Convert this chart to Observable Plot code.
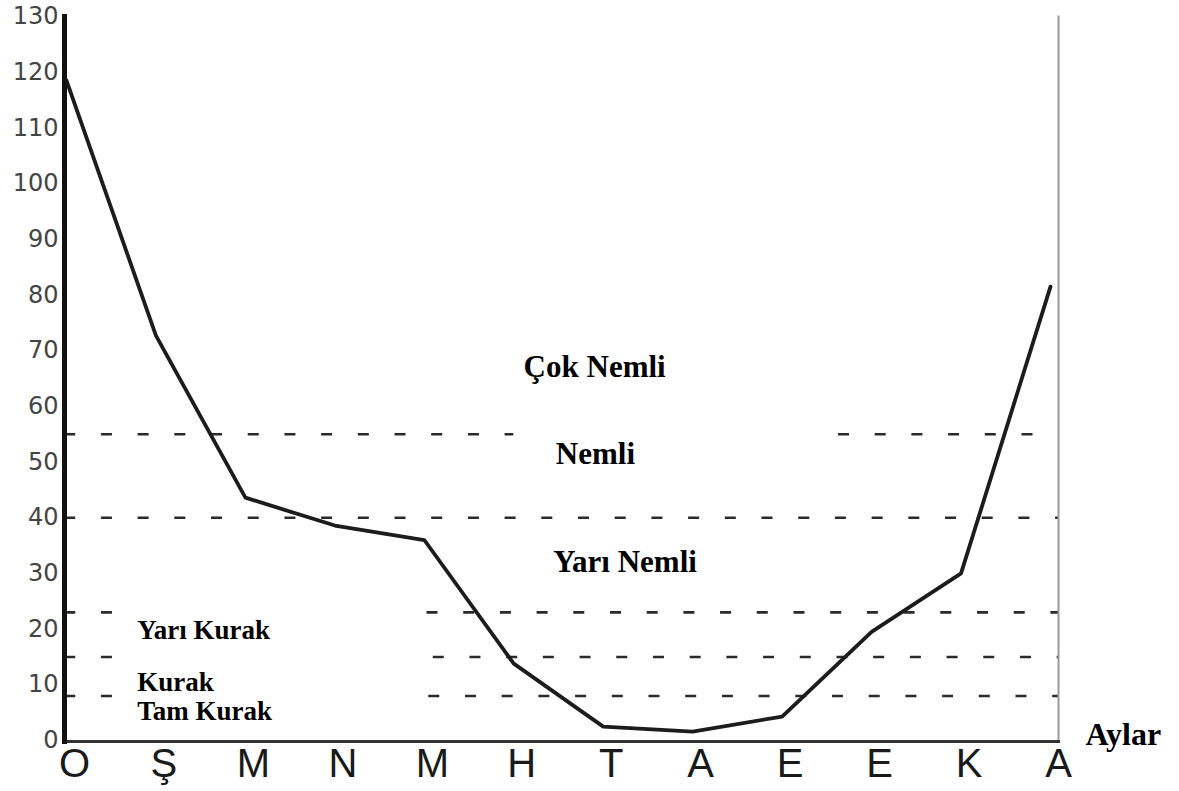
<!DOCTYPE html>
<html>
<head>
<meta charset="utf-8">
<script src="https://cdn.jsdelivr.net/npm/d3@7"></script>
<script src="https://cdn.jsdelivr.net/npm/@observablehq/plot@0.6"></script>
<style>
  html, body { margin: 0; padding: 0; background: #fff; }
  #chart svg { display: block; }
</style>
</head>
<body>
<div id="chart"></div>
<script>
// Months (October → September, hydrological year)
const months = ["O", "Ş", "M", "N", "M", "H", "T", "A", "E", "E", "K", "A"];
// Erinç index values
const indexValues = [118.5, 72.7, 43.6, 38.6, 36.0, 13.8, 2.5, 1.6, 4.3, 19.5, 30.0, 81.5];
// Y-axis ticks
const yTicks = [0, 10, 20, 30, 40, 50, 60, 70, 80, 90, 100, 110, 120, 130];

// Class thresholds (dashed lines) and their drawn extents in month units
const thresholdValues = [55, 55, 40, 23, 23, 15, 15, 8, 8];
const thresholdFrom   = [-0.02, 8.63, -0.02, -0.02, 4.03, -0.02, 4.10, -0.02, 4.05];
const thresholdTo     = [5.00, 11.09, 11.09, 0.52, 11.09, 0.55, 11.09, 0.52, 11.09];

// Class labels
const zoneNames  = ["Çok Nemli", "Nemli", "Yarı Nemli", "Yarı Kurak", "Kurak", "Tam Kurak"];
const zoneX      = [5.11, 5.47, 5.44, 0.79, 0.79, 0.79];
const zoneY      = [67.0, 51.4, 32.1, 19.8, 10.4, 5.2];
const zoneSize   = [31, 31, 31, 27, 27, 27];

const axisTitle = "Aylar";

const series = months.map((m, i) => ({i, month: m, value: indexValues[i]}));
const thresholds = thresholdValues.map((v, k) => ({y: v, x1: thresholdFrom[k], x2: thresholdTo[k]}));
const zones = zoneNames.map((n, k) => ({name: n, x: zoneX[k], y: zoneY[k], size: zoneSize[k]}));

const chart = Plot.plot({
  width: 1179,
  height: 791,
  marginLeft: 64,
  marginRight: 121,
  marginTop: 16,
  marginBottom: 50,
  style: {background: "#fff", fontFamily: "'Liberation Serif', serif"},
  x: {type: "linear", domain: [0, 11], insetLeft: 2, insetRight: 8},
  y: {domain: [0, 130], insetBottom: 1},
  marks: [
    Plot.ruleY(thresholds, {y: "y", x1: "x1", x2: "x2", stroke: "#2a2a2a", strokeWidth: 2.6, strokeDasharray: "11 25.7"}),
    Plot.line(series, {x: "i", y: "value", stroke: "#1c1c1c", strokeWidth: 3.8}),
    Plot.text(zones, {x: "x", y: "y", text: "name", fontSize: "size", textAnchor: "start",
      fontWeight: "bold", fontFamily: "'Liberation Serif', 'Times New Roman', serif", fill: "#000"}),
    Plot.text([axisTitle], {x: 11.39, y: 1.0, text: d => d, textAnchor: "start", fontSize: 32,
      fontWeight: "bold", fontFamily: "'Liberation Serif', 'Times New Roman', serif", fill: "#000"}),
    Plot.axisY({ticks: yTicks, tickSize: 0, tickPadding: 6, label: null, fontSize: 24,
      fontFamily: "'DejaVu Sans', sans-serif", fill: "#444"}),
    Plot.axisX({ticks: d3.range(months.length), tickFormat: i => months[i], tickSize: 0, tickPadding: 7,
      dx: 8, label: null, fontSize: 40, fontFamily: "'Liberation Sans', Arial, sans-serif", fill: "#1a1a1a"}),
    Plot.frame({anchor: "right", stroke: "#999", strokeWidth: 2}),
    Plot.frame({anchor: "bottom", stroke: "#333", strokeWidth: 3}),
    Plot.frame({anchor: "left", stroke: "#111", strokeWidth: 5})
  ]
});
document.getElementById("chart").appendChild(chart);
</script>
</body>
</html>
